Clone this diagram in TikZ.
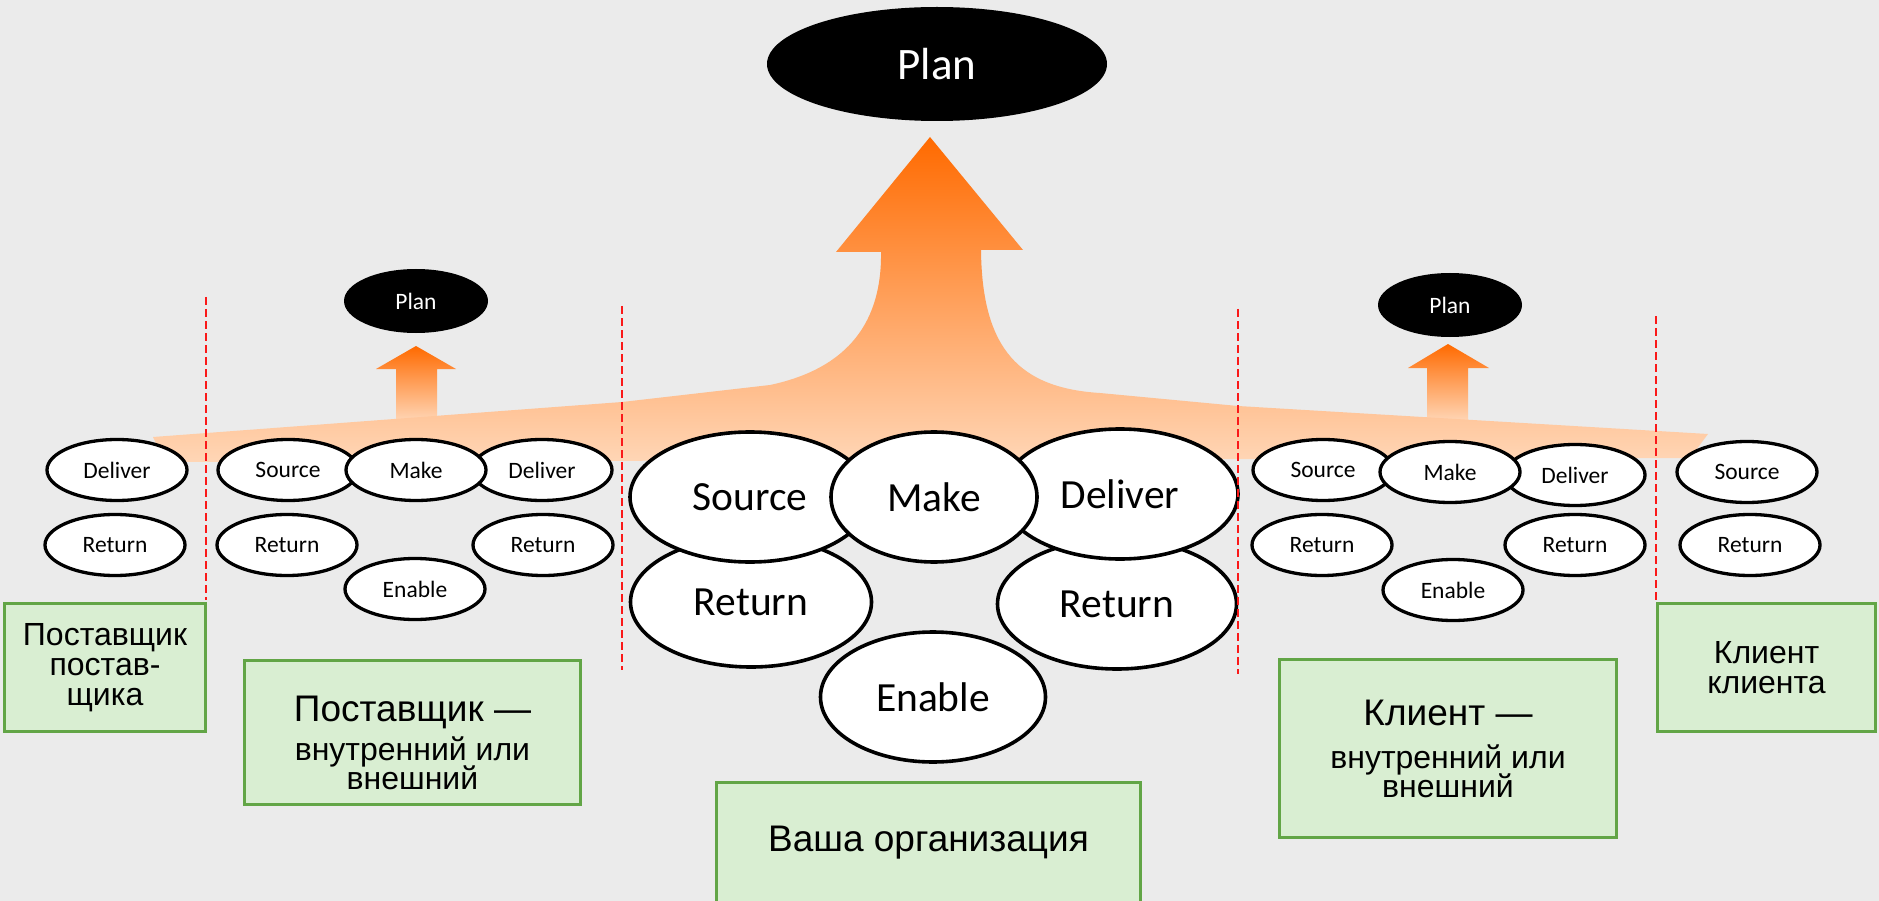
\documentclass[tikz,border=0pt]{standalone}
\usepackage{fontspec}
\setmainfont{Carlito}
\newfontfamily\boxfont{Liberation Sans}
\usetikzlibrary{shapes.geometric}
\definecolor{bggray}{RGB}{235,235,235}
\definecolor{boxfill}{RGB}{217,238,210}
\definecolor{boxgreen}{RGB}{98,165,70}
\definecolor{sepred}{RGB}{250,25,25}
\definecolor{orangetop}{RGB}{255,106,0}
\definecolor{peach}{RGB}{255,214,182}
\lineskiplimit=-100pt
\newcommand{\sublines}{\fontsize{32}{29}\selectfont}

\begin{document}
\begin{tikzpicture}[
    x=1pt, y=-1pt,
    oval/.style={
        ellipse, draw=black, fill=white, line width=3.3pt, inner sep=0pt,
        minimum width=140pt, minimum height=61pt,
        font=\fontsize{23.5}{28}\selectfont
    },
    bigoval/.style={
        oval, line width=3.6pt, minimum width=240pt, minimum height=130pt,
        font=\fontsize{41.5}{50}\selectfont
    },
    plan/.style={
        ellipse, fill=black, text=white, inner sep=0pt,
        minimum width=144pt, minimum height=64pt,
        font=\fontsize{23.5}{28}\selectfont
    },
    greenbox/.style={
        rectangle, draw=boxgreen, fill=boxfill, line width=2.5pt,
        align=center, font=\boxfont\fontsize{37}{29}\selectfont
    },
    smallbox/.style={greenbox, font=\boxfont\fontsize{32}{30}\selectfont},
    sepline/.style={sepred, line width=2.2pt, dash pattern=on 8pt off 4pt},
    flow/.style={top color=orangetop, bottom color=peach}
]
    \useasboundingbox (0,0) rectangle (1879,901);
    \fill[bggray] (0,0) rectangle (1879,901);

    % small arrows up to the partners' plans
    \shade[flow] (396,421) -- (396,369) -- (376,369) -- (416,346) -- (456,369) -- (437,369) -- (437,421) -- cycle;
    \shade[flow] (1427,421) -- (1427,368) -- (1408,368) -- (1448,344) -- (1489,368) -- (1468,368) -- (1468,421) -- cycle;

    % the wide flow into the big arrow
    \shade[flow] (153,437) -- (622,402) -- (770,385)
        .. controls (850,368) and (882,320) .. (881,252)
        -- (836,252) -- (930,137) -- (1023,250) -- (981,250)
        .. controls (982,350) and (1020,388) .. (1100,393)
        -- (1238,406) -- (1708,434) -- (1690,458) -- (165,462) -- cycle;

    % supplier's supplier
    \node[oval] (ssdeliver) at (117,470) {Deliver};
    \node[oval] (ssreturn) at (115,545) {Return};

    % supplier
    \node[plan] (splan) at (416,301) {Plan};
    \node[oval] (ssource) at (288,470) {Source};
    \node[oval] (sdeliver) at (542,470) {Deliver};
    \node[oval] (smake) at (416,470) {Make};
    \node[oval] (sreturnl) at (287,545) {Return};
    \node[oval] (sreturnr) at (543,545) {Return};
    \node[oval] (senable) at (415,589) {Enable};

    % your organisation
    \node[plan, minimum width=340pt, minimum height=114pt, font=\fontsize{45}{54}\selectfont] (oplan) at (937,64) {Plan};
    \node[bigoval, minimum width=241pt] (oreturnl) at (751,602) {Return};
    \node[bigoval, minimum width=239pt] (oreturnr) at (1117,604) {Return};
    \node[bigoval] (osource) at (750,497) {Source};
    \node[bigoval, minimum width=236pt] (odeliver) at (1120,494) {Deliver};
    \node[bigoval, minimum width=206pt] (omake) at (934,497) {Make};
    \node[bigoval, minimum width=225pt] (oenable) at (933,697) {Enable};

    % customer
    \node[plan] (cplan) at (1450,305) {Plan};
    \node[oval] (csource) at (1323,470) {Source};
    \node[oval] (cdeliver) at (1575,475) {Deliver};
    \node[oval] (cmake) at (1450,472) {Make};
    \node[oval] (creturnl) at (1322,545) {Return};
    \node[oval] (creturnr) at (1575,545) {Return};
    \node[oval] (cenable) at (1453,590) {Enable};

    % customer's customer
    \node[oval] (ccsource) at (1747,472) {Source};
    \node[oval] (ccreturn) at (1750,545) {Return};

    % labels
    \node[smallbox, minimum width=201pt, minimum height=128pt] (ssbox) at (105,667.5) {Поставщик\\постав-\\щика};
    \node[greenbox, minimum width=336pt, minimum height=144pt] (sbox) at (412.5,732.5) {\rule{0pt}{47pt}Поставщик —\\[10pt]\sublines внутренний или\\\sublines внешний};
    \node[greenbox, minimum width=424pt, minimum height=121pt] (obox) at (928.5,843) {Ваша организация};
    \node[greenbox, minimum width=337pt, minimum height=178pt] (cbox) at (1448,748.5) {Клиент —\\[14pt]\sublines внутренний или\\\sublines внешний};
    \node[smallbox, minimum width=218pt, minimum height=128pt] (ccbox) at (1766.5,667.5) {Клиент\\клиента};

    % borders between the links of the chain
    \draw[sepline] (206,297) -- (206,600);
    \draw[sepline] (622,306) -- (622,670);
    \draw[sepline] (1238,309) -- (1238,674);
    \draw[sepline] (1656,316) -- (1656,600);
\end{tikzpicture}
\end{document}
